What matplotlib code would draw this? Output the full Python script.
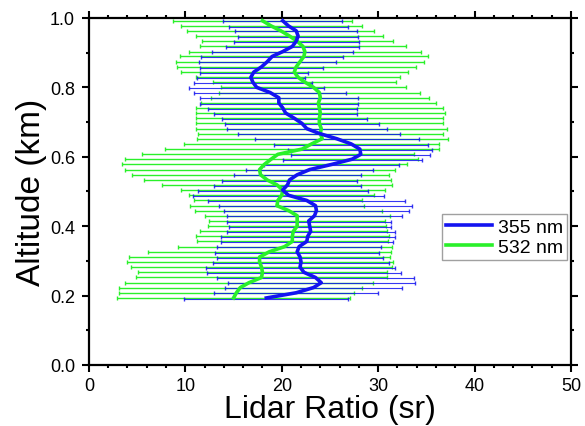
import numpy as np
import matplotlib
matplotlib.use("Agg")
import matplotlib.pyplot as plt
from matplotlib.ticker import MultipleLocator, FormatStrFormatter

plt.rcParams['font.family'] = ['Liberation Sans', 'DejaVu Sans']

# altitude grid (km), bottom to top
altitude = [0.193, 0.208, 0.223, 0.237, 0.252, 0.267, 0.282, 0.297, 0.311, 0.326,
            0.341, 0.356, 0.371, 0.385, 0.400, 0.415, 0.430, 0.445, 0.459, 0.474,
            0.489, 0.504, 0.519, 0.533, 0.548, 0.563, 0.578, 0.593, 0.607, 0.622,
            0.637, 0.652, 0.667, 0.681, 0.696, 0.711, 0.726, 0.741, 0.755, 0.770,
            0.785, 0.800, 0.815, 0.829, 0.844, 0.859, 0.874, 0.889, 0.903, 0.918,
            0.933, 0.948, 0.963, 0.977, 0.992]

# 355 nm lidar ratio (sr) and its uncertainty
lr355 = [18.4, 21.5, 23.3, 24.1, 23.5, 22.3, 21.9, 22.0, 21.9, 21.6,
         21.8, 22.6, 22.7, 23.0, 22.9, 22.8, 23.4, 23.6, 23.5, 22.6,
         20.7, 20.1, 20.6, 20.8, 21.6, 22.9, 25.2, 27.3, 28.2, 28.1,
         27.2, 25.7, 23.9, 22.6, 22.1, 21.3, 20.4, 20.1, 19.7, 19.7,
         18.8, 17.4, 17.0, 16.8, 17.1, 17.9, 18.5, 19.0, 20.1, 21.1,
         21.5, 21.7, 21.5, 20.7, 20.1]
err355 = [8.5, 8.5, 9.2, 9.7, 10.2, 10.1, 9.8, 9.1, 8.6, 8.5,
          8.5, 8.9, 9.0, 8.7, 8.4, 8.5, 9.1, 9.6, 10.0, 10.2,
          9.9, 8.8, 7.6, 7.0, 6.6, 6.6, 7.0, 7.2, 7.2, 7.5,
          8.0, 8.5, 8.4, 8.3, 8.0, 7.5, 7.4, 7.7, 8.2, 8.2,
          7.9, 7.0, 6.1, 5.6, 5.6, 6.4, 7.1, 7.4, 7.3, 6.9,
          6.5, 6.2, 6.3, 6.2, 6.2]

# 532 nm lidar ratio (sr) and its uncertainty
lr532 = [15.0, 15.3, 15.7, 16.6, 17.9, 18.0, 17.9, 17.7, 17.7, 18.7,
         20.3, 21.1, 21.1, 21.2, 21.6, 21.6, 21.6, 20.7, 19.5, 19.6,
         20.0, 20.1, 19.5, 18.5, 17.8, 17.7, 18.2, 18.9, 19.6, 22.1,
         23.1, 24.2, 24.0, 24.1, 23.9, 23.9, 24.0, 23.9, 23.8, 24.0,
         23.9, 23.3, 22.4, 21.7, 21.3, 21.5, 21.9, 22.3, 22.4, 22.2,
         21.6, 20.8, 19.9, 18.9, 18.0]
err532 = [12.1, 12.2, 12.6, 12.9, 13.0, 12.9, 13.5, 13.8, 13.5, 12.6,
          11.1, 9.9, 10.0, 9.7, 9.2, 9.1, 9.6, 9.7, 9.0, 8.7,
          9.6, 10.6, 11.9, 12.8, 13.3, 14.0, 14.8, 15.2, 14.1, 14.2,
          13.2, 13.0, 12.7, 13.0, 12.8, 12.8, 12.9, 12.8, 12.2, 11.3,
          10.4, 9.6, 9.5, 10.6, 11.8, 12.4, 12.9, 12.9, 12.0, 10.7,
          9.9, 9.7, 9.7, 9.4, 9.3]

labels = ["355 nm", "532 nm"]
blue = "#1414F0"
green = "#2AF02A"

fig = plt.figure(figsize=(5.85, 4.27), dpi=100)
ax = fig.add_axes([0.152, 0.143, 0.824, 0.8126])

alt = np.array(altitude)
ax.errorbar(lr532, alt, xerr=err532, fmt='none', ecolor=green, elinewidth=1.0,
            capsize=1.6, capthick=1.0, zorder=2)
ax.errorbar(lr355, alt - 0.002, xerr=err355, fmt='none', ecolor=blue, elinewidth=0.8,
            capsize=1.6, capthick=1.0, alpha=0.85, zorder=3)
ax.plot(lr532, alt, color=green, lw=2.6, label=labels[1], zorder=4,
        solid_joinstyle='round')
ax.plot(lr355, alt, color=blue, lw=2.6, label=labels[0], zorder=5,
        solid_joinstyle='round')

ax.set_xlim(0, 50)
ax.set_ylim(0, 1.0)
ax.xaxis.set_major_locator(MultipleLocator(10))
ax.xaxis.set_minor_locator(MultipleLocator(2))
ax.yaxis.set_major_locator(MultipleLocator(0.2))
ax.yaxis.set_minor_locator(MultipleLocator(0.1))
ax.yaxis.set_major_formatter(FormatStrFormatter('%.1f'))
ax.tick_params(which='both', direction='out', top=True, right=True, width=1.5,
               labelsize=13)
ax.tick_params(axis='x', pad=3.5)
ax.tick_params(axis='y', pad=5)
ax.tick_params(which='major', length=5)
ax.tick_params(which='minor', length=2.5)
for s in ax.spines.values():
    s.set_linewidth(1.6)

ax.set_xlabel("Lidar Ratio (sr)", fontsize=23, labelpad=0)
ax.set_ylabel("Altitude (km)", fontsize=24, labelpad=2)

h, l = ax.get_legend_handles_labels()
leg = ax.legend(h[::-1], l[::-1], loc='upper right', bbox_to_anchor=(0.992, 0.435),
                fontsize=14, frameon=True, fancybox=False, edgecolor='#888888',
                handlelength=2.4, borderpad=0.2, labelspacing=0.15,
                handletextpad=0.3, borderaxespad=0)
leg.get_frame().set_linewidth(1.0)
for line in leg.get_lines():
    line.set_linewidth(2.6)

fig.savefig("out.png", dpi=100)
